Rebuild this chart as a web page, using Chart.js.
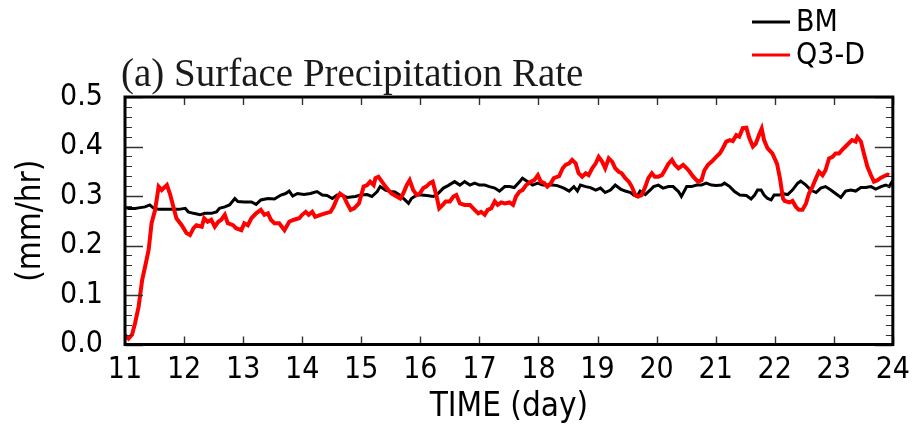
<!DOCTYPE html>
<html>
<head>
<meta charset="utf-8">
<script src="https://cdn.jsdelivr.net/npm/chart.js@4.4.1/dist/chart.umd.min.js"></script>
<style>
  html, body { margin: 0; padding: 0; background: #ffffff; }
  #wrap { width: 918px; height: 427px; position: relative; }
</style>
</head>
<body>
<div id="wrap"><canvas id="c" width="918" height="427"></canvas></div>
<script>
// ---- data ----
const chartTitle = "(a) Surface Precipitation Rate";
const seriesNames = ["BM", "Q3-D"];
const xAxisTitle = "TIME (day)";
const yAxisTitle = "(mm/hr)";

const bmDays = [11.00,11.06,11.17,11.23,11.34,11.42,11.48,11.57,11.68,11.79,11.91,12.02,12.07,12.16,12.27,12.35,12.46,12.55,12.60,12.69,12.77,12.86,12.91,13.02,13.14,13.22,13.30,13.42,13.53,13.64,13.72,13.78,13.84,13.92,14.03,14.14,14.25,14.34,14.42,14.51,14.59,14.68,14.76,14.90,14.99,15.10,15.18,15.27,15.32,15.41,15.49,15.57,15.66,15.74,15.80,15.85,15.94,16.02,16.11,16.22,16.30,16.39,16.47,16.58,16.67,16.75,16.84,16.92,17.00,17.09,17.17,17.26,17.34,17.43,17.51,17.59,17.68,17.73,17.82,17.90,17.99,18.07,18.15,18.24,18.32,18.43,18.52,18.60,18.66,18.71,18.80,18.88,18.97,19.05,19.13,19.22,19.30,19.39,19.47,19.56,19.61,19.67,19.72,19.81,19.89,19.95,20.03,20.11,20.20,20.28,20.37,20.42,20.51,20.59,20.68,20.76,20.84,20.93,21.01,21.10,21.15,21.24,21.32,21.41,21.52,21.60,21.66,21.71,21.77,21.82,21.88,21.94,21.99,22.08,22.13,22.22,22.30,22.39,22.44,22.53,22.61,22.70,22.78,22.86,22.95,23.03,23.12,23.20,23.29,23.37,23.46,23.54,23.63,23.71,23.80,23.88,23.94,24.00];
const bmRate = [0.278,0.275,0.275,0.276,0.278,0.282,0.276,0.273,0.273,0.273,0.273,0.275,0.268,0.265,0.262,0.265,0.265,0.268,0.275,0.278,0.282,0.295,0.289,0.288,0.288,0.283,0.292,0.295,0.294,0.302,0.305,0.310,0.300,0.305,0.303,0.305,0.309,0.302,0.301,0.295,0.302,0.301,0.297,0.299,0.302,0.303,0.299,0.309,0.319,0.312,0.309,0.308,0.301,0.292,0.285,0.295,0.302,0.302,0.301,0.299,0.305,0.316,0.321,0.329,0.322,0.329,0.322,0.326,0.322,0.322,0.319,0.316,0.310,0.319,0.319,0.317,0.329,0.336,0.329,0.322,0.326,0.322,0.322,0.322,0.321,0.316,0.310,0.319,0.310,0.322,0.319,0.317,0.312,0.316,0.307,0.312,0.322,0.314,0.310,0.307,0.302,0.299,0.310,0.303,0.312,0.319,0.322,0.316,0.319,0.319,0.309,0.299,0.319,0.319,0.322,0.322,0.326,0.322,0.321,0.322,0.326,0.319,0.309,0.302,0.301,0.294,0.302,0.312,0.312,0.302,0.295,0.292,0.302,0.302,0.305,0.303,0.312,0.326,0.330,0.322,0.312,0.307,0.316,0.319,0.312,0.305,0.297,0.310,0.312,0.310,0.317,0.317,0.319,0.314,0.319,0.322,0.319,0.332];

const q3dDays = [11.00,11.06,11.12,11.17,11.23,11.29,11.34,11.40,11.45,11.51,11.57,11.62,11.71,11.76,11.82,11.87,11.96,12.04,12.10,12.16,12.21,12.30,12.34,12.40,12.46,12.52,12.58,12.63,12.69,12.74,12.83,12.88,12.97,13.02,13.08,13.14,13.22,13.30,13.36,13.42,13.47,13.53,13.61,13.70,13.78,13.86,13.95,14.00,14.06,14.11,14.17,14.22,14.31,14.39,14.48,14.53,14.59,14.64,14.70,14.76,14.82,14.88,14.96,15.04,15.10,15.15,15.21,15.24,15.29,15.35,15.43,15.51,15.60,15.66,15.71,15.77,15.82,15.88,15.94,15.99,16.05,16.10,16.16,16.21,16.27,16.32,16.38,16.43,16.50,16.56,16.61,16.67,16.75,16.84,16.92,16.98,17.03,17.09,17.14,17.20,17.26,17.31,17.37,17.43,17.51,17.57,17.62,17.68,17.73,17.79,17.87,17.93,17.99,18.04,18.10,18.15,18.21,18.26,18.35,18.41,18.46,18.52,18.57,18.63,18.68,18.74,18.80,18.85,18.91,18.97,19.02,19.08,19.13,19.19,19.25,19.30,19.36,19.41,19.47,19.53,19.58,19.64,19.69,19.75,19.81,19.86,19.92,19.97,20.03,20.09,20.14,20.20,20.26,20.31,20.37,20.45,20.51,20.56,20.62,20.70,20.76,20.81,20.87,20.93,21.01,21.07,21.12,21.18,21.24,21.29,21.35,21.40,21.46,21.52,21.57,21.63,21.68,21.74,21.78,21.82,21.88,21.96,22.04,22.09,22.14,22.17,22.25,22.30,22.36,22.41,22.47,22.53,22.58,22.64,22.70,22.75,22.81,22.86,22.92,22.98,23.03,23.09,23.14,23.20,23.25,23.31,23.37,23.40,23.46,23.51,23.57,23.63,23.68,23.74,23.80,23.85,23.91,23.94];
const q3dRate = [0.019,0.012,0.020,0.043,0.076,0.130,0.157,0.191,0.245,0.272,0.319,0.312,0.322,0.305,0.278,0.255,0.241,0.225,0.221,0.235,0.241,0.238,0.255,0.248,0.252,0.238,0.248,0.252,0.262,0.245,0.241,0.235,0.231,0.245,0.241,0.255,0.265,0.272,0.262,0.265,0.252,0.245,0.245,0.231,0.248,0.252,0.255,0.262,0.268,0.262,0.268,0.258,0.262,0.265,0.268,0.278,0.295,0.305,0.300,0.285,0.272,0.275,0.285,0.319,0.322,0.329,0.322,0.336,0.339,0.329,0.316,0.305,0.299,0.295,0.305,0.322,0.332,0.312,0.302,0.305,0.316,0.319,0.326,0.329,0.302,0.275,0.282,0.289,0.289,0.299,0.302,0.285,0.282,0.282,0.272,0.265,0.268,0.262,0.272,0.275,0.289,0.282,0.287,0.285,0.287,0.282,0.299,0.309,0.312,0.322,0.329,0.332,0.342,0.329,0.326,0.319,0.326,0.336,0.340,0.356,0.363,0.366,0.373,0.366,0.346,0.339,0.346,0.342,0.356,0.366,0.379,0.369,0.356,0.376,0.369,0.356,0.349,0.346,0.336,0.329,0.319,0.302,0.299,0.302,0.319,0.336,0.346,0.339,0.339,0.342,0.352,0.365,0.373,0.363,0.356,0.363,0.356,0.349,0.339,0.329,0.332,0.352,0.363,0.369,0.379,0.386,0.396,0.410,0.413,0.411,0.423,0.420,0.437,0.438,0.417,0.400,0.406,0.425,0.436,0.413,0.396,0.386,0.365,0.335,0.295,0.290,0.287,0.290,0.278,0.272,0.272,0.285,0.305,0.319,0.336,0.349,0.342,0.352,0.376,0.379,0.386,0.386,0.393,0.400,0.406,0.413,0.410,0.419,0.410,0.386,0.359,0.342,0.329,0.332,0.337,0.340,0.343,0.342];

const seriesColors = ["#000000", "#ff0000"];

// ---- styling ----
const SANS = "'Liberation Sans Narrow','DejaVu Sans Condensed','Liberation Sans',sans-serif";
const SERIF = "'Liberation Serif','DejaVu Serif',serif";

function toPoints(xs, ys) { return xs.map((x, i) => ({ x: x, y: ys[i] })); }

const decorPlugin = {
  id: 'decor',
  afterDraw(chart) {
    const { ctx, chartArea: a, scales } = chart;
    const xs = scales.x, ys = scales.y;
    ctx.save();
    // inward tick marks
    ctx.strokeStyle = '#333333';
    for (let k = 0; k <= 25; k++) {
      const v = k * 0.02;
      const y = Math.round(ys.getPixelForValue(v)) + 0.5;
      const major = (k % 5 === 0);
      const len = major ? 18 : 7;
      ctx.lineWidth = major ? 1.6 : 1.2;
      ctx.beginPath();
      ctx.moveTo(a.left, y); ctx.lineTo(a.left + len, y);
      ctx.moveTo(a.right, y); ctx.lineTo(a.right - len, y);
      ctx.stroke();
    }
    ctx.lineWidth = 1.4;
    for (let d = Math.ceil(xs.min); d <= xs.max; d++) {
      const x = Math.round(xs.getPixelForValue(d)) + 0.5;
      ctx.beginPath();
      ctx.moveTo(x, a.bottom); ctx.lineTo(x, a.bottom - 8);
      ctx.moveTo(x, a.top); ctx.lineTo(x, a.top + 8);
      ctx.stroke();
    }
    // frame
    ctx.strokeStyle = '#000000';
    ctx.lineWidth = 3;
    ctx.strokeRect(a.left, a.top, a.right - a.left, a.bottom - a.top);

    // title
    ctx.fillStyle = '#1a1a1a';
    ctx.font = "39px " + SERIF;
    ctx.textAlign = 'left';
    ctx.textBaseline = 'alphabetic';
    ctx.fillText(chartTitle, 121, 86);

    // legend
    const legY = [22, 55];
    ctx.font = "30px " + SANS;
    ctx.textBaseline = 'middle';
    for (let i = 0; i < seriesNames.length; i++) {
      ctx.strokeStyle = seriesColors[i];
      ctx.lineWidth = 3;
      ctx.beginPath();
      ctx.moveTo(752, legY[i]); ctx.lineTo(790, legY[i]);
      ctx.stroke();
      ctx.fillStyle = '#000000';
      ctx.fillText(seriesNames[i], 796, legY[i] + 1);
    }
    ctx.restore();
  }
};

new Chart(document.getElementById('c'), {
  type: 'line',
  data: {
    datasets: [
      { label: seriesNames[0], data: toPoints(bmDays, bmRate), borderColor: seriesColors[0], borderWidth: 3, pointRadius: 0, tension: 0, order: 2 },
      { label: seriesNames[1], data: toPoints(q3dDays, q3dRate), borderColor: seriesColors[1], borderWidth: 4, pointRadius: 0, tension: 0, order: 1 }
    ]
  },
  options: {
    responsive: false,
    animation: false,
    devicePixelRatio: 1,
    layout: { padding: { top: 97, right: 20, left: 0, bottom: 0 } },
    plugins: { legend: { display: false }, title: { display: false }, tooltip: { enabled: false } },
    scales: {
      x: {
        type: 'linear', min: 11, max: 24,
        grid: { display: false, drawTicks: false },
        border: { display: false },
        ticks: { stepSize: 1, padding: 8, color: '#000', font: { family: SANS, size: 30 }, maxRotation: 0, autoSkip: false },
        title: { display: true, text: xAxisTitle, color: '#000', font: { family: SANS, size: 33 }, padding: { top: 0, bottom: 0 } },
        afterFit(s) { s.height = 82.5; }
      },
      y: {
        min: 0, max: 0.5,
        grid: { display: false, drawTicks: false },
        border: { display: false },
        ticks: { stepSize: 0.1, padding: 22, color: '#000', font: { family: SANS, size: 30 }, callback: v => Number(v).toFixed(1) },
        title: { display: true, text: yAxisTitle, color: '#000', font: { family: SANS, size: 33 }, padding: { top: 12, bottom: 0 } },
        afterFit(s) { s.width = 125; }
      }
    }
  },
  plugins: [decorPlugin]
});
</script>
</body>
</html>
